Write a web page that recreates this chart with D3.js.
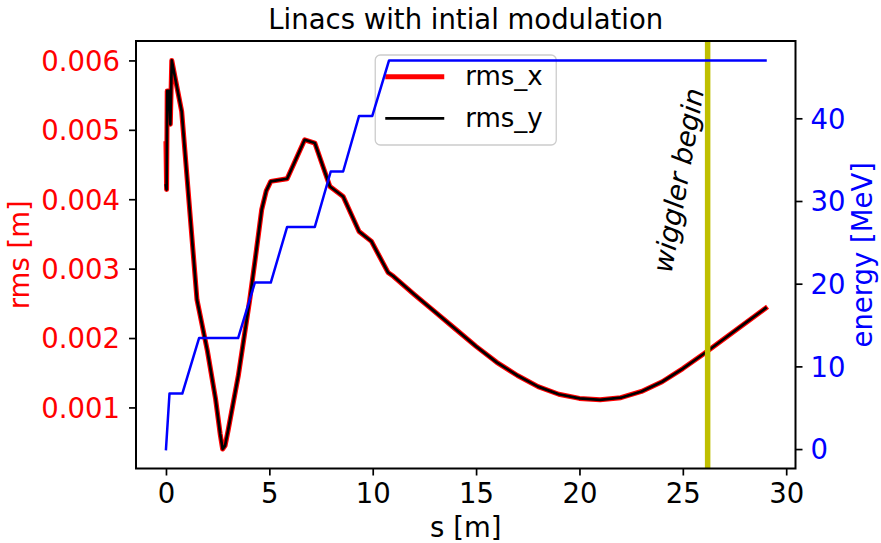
<!DOCTYPE html>
<html><head><meta charset="utf-8">
<script src="https://cdn.jsdelivr.net/npm/d3@7"></script>
<style>body{margin:0;background:#fff}svg{display:block;font-family:"DejaVu Sans",sans-serif}</style>
</head><body><svg id="c" width="881" height="543"></svg>
<script>
// ---- data ----
const rmsS = [0, 0.03, 0.06, 0.15, 0.21, 0.28, 0.76, 1.5, 2.0, 2.4, 2.62, 2.74, 2.86, 3.0, 3.5, 4.05, 4.3, 4.63, 4.85, 5.07, 5.86, 6.71, 7.2, 7.93, 8.57, 9.34, 9.94, 10.74,
  11, 12, 13, 14, 15, 16, 17, 18, 19, 20, 21, 22, 23, 24, 25, 26, 27, 28, 29];
const rmsX = [0.0048, 0.00414, 0.00556, 0.00556, 0.00508, 0.0060, 0.005265, 0.00255, 0.00182, 0.00112, 0.00062, 0.00040, 0.00045, 0.00066, 0.00146, 0.00255, 0.0031, 0.00385, 0.00412, 0.004257, 0.004295, 0.004857, 0.00481, 0.004184, 0.00404, 0.003536, 0.003392, 0.002945,
  0.00289, 0.00263, 0.00238, 0.00213, 0.00188, 0.00165, 0.00146, 0.00130, 0.00119, 0.00113, 0.00111, 0.00114, 0.00123, 0.00137, 0.00156, 0.00177, 0.00199, 0.00221, 0.00243];
const rmsY = [0.0042, 0.00414, 0.00556, 0.00556, 0.00508, 0.0060, 0.005265, 0.00255, 0.00182, 0.00112, 0.00062, 0.00040, 0.00045, 0.00066, 0.00146, 0.00255, 0.0031, 0.00385, 0.00412, 0.004257, 0.004295, 0.004857, 0.00481, 0.004184, 0.00404, 0.003536, 0.003392, 0.002945,
  0.00289, 0.00263, 0.00238, 0.00213, 0.00188, 0.00165, 0.00146, 0.00130, 0.00119, 0.00113, 0.00111, 0.00114, 0.00123, 0.00137, 0.00156, 0.00177, 0.00199, 0.00221, 0.00243];
const energyS = [0, 0.17, 0.79, 1.6, 3.49, 4.3, 5.07, 5.86, 7.2, 7.97, 8.57, 9.34, 9.98, 10.79, 29];
const energyE = [0, 6.71, 6.71, 13.43, 13.43, 20.14, 20.14, 26.86, 26.86, 33.57, 33.57, 40.29, 40.29, 47, 47];
const xTicks = [0, 5, 10, 15, 20, 25, 30];
const rmsTicks = [0.001, 0.002, 0.003, 0.004, 0.005, 0.006];
const energyTicks = [0, 10, 20, 30, 40];
const wigglerS = 26.2;
const wigglerLabelS = 25.24, wigglerLabelRms = 0.00425;
const legendLabels = ["rms_x", "rms_y"];
const titleText = "Linacs with intial modulation";

// ---- layout ----
const M = {l:136, r:795.5, t:41, b:468.5};
const FS = 27.5, LFS = 26;
const svg = d3.select('#c');

const sExt = d3.extent(rmsS.concat(energyS)), padS = (sExt[1]-sExt[0])*0.05;
const x = d3.scaleLinear().domain([sExt[0]-padS, sExt[1]+padS]).range([M.l, M.r]);
const rExt = d3.extent(rmsX.concat(rmsY)), padR = (rExt[1]-rExt[0])*0.05;
const yL = d3.scaleLinear().domain([rExt[0]-padR, rExt[1]+padR]).range([M.b, M.t]);
const eExt = d3.extent(energyE), padE = (eExt[1]-eExt[0])*0.05;
const yR = d3.scaleLinear().domain([eExt[0]-padE, eExt[1]+padE]).range([M.b, M.t]);

const rmsLine = (vals) => d3.line().x((d,i)=>x(rmsS[i])).y((d,i)=>yL(vals[i]))(vals);

// rms curves
svg.append('path').attr('d', rmsLine(rmsX)).attr('fill','none').attr('stroke','#ff0000')
  .attr('stroke-width',5).attr('stroke-linejoin','round').attr('stroke-linecap','square');
svg.append('path').attr('d', rmsLine(rmsY)).attr('fill','none').attr('stroke','#000000')
  .attr('stroke-width',2.7).attr('stroke-linejoin','round').attr('stroke-linecap','square');

// wiggler line + label
svg.append('line').attr('x1', x(wigglerS)).attr('x2', x(wigglerS)).attr('y1', M.t).attr('y2', M.b)
  .attr('stroke','#bfbf00').attr('stroke-width',5.5);
svg.append('text').attr('transform', `translate(${x(wigglerLabelS)},${yL(wigglerLabelRms)}) rotate(-80)`)
  .attr('text-anchor','middle').attr('font-style','italic').attr('font-size',FS).attr('fill','#000')
  .text('wiggler begin');

// legend
const lgW = 181, lgH = 90, lgX = (M.l+M.r)/2 - lgW/2, lgY = 55;
const lg = svg.append('g');
lg.append('rect').attr('x',lgX).attr('y',lgY).attr('width',lgW).attr('height',lgH).attr('rx',5)
  .attr('fill','#fff').attr('fill-opacity',0.8).attr('stroke','#cccccc').attr('stroke-width',1.3);
const lgStyles = [{c:'#ff0000', w:5}, {c:'#000000', w:2.7}];
legendLabels.forEach((lab,i)=>{
  const ry = lgY + 21.7 + i*41.6;
  lg.append('line').attr('x1', lgX+10+lgStyles[i].w/2).attr('x2', lgX+69-lgStyles[i].w/2).attr('y1',ry).attr('y2',ry)
    .attr('stroke',lgStyles[i].c).attr('stroke-width',lgStyles[i].w).attr('stroke-linecap','square');
  lg.append('text').attr('x', lgX+90).attr('y', ry+8.5).attr('font-size',LFS).attr('fill','#000').text(lab);
});

// energy (twin axis, drawn on top)
svg.append('path').attr('d', d3.line().x((d,i)=>x(energyS[i])).y(d=>yR(d))(energyE))
  .attr('fill','none').attr('stroke','#0000ff').attr('stroke-width',2.5).attr('stroke-linejoin','round').attr('stroke-linecap','square');

// axes
function styleAxis(g, color){
  g.select('.domain').remove();
  g.selectAll('.tick line').attr('stroke','#000').attr('stroke-width',1.7);
  g.selectAll('.tick text').attr('fill',color).attr('font-size',FS).attr('font-family','"DejaVu Sans",sans-serif');
}
const gx = svg.append('g').attr('transform',`translate(0,${M.b})`)
  .call(d3.axisBottom(x).tickValues(xTicks).tickSize(7).tickFormat(d3.format('d')));
styleAxis(gx,'#000');
gx.selectAll('.tick text').attr('dy',null).attr('y',34.8);

const gl = svg.append('g').attr('transform',`translate(${M.l},0)`)
  .call(d3.axisLeft(yL).tickValues(rmsTicks).tickSize(7).tickPadding(9).tickFormat(d3.format('.3f')));
styleAxis(gl,'#ff0000');
gl.selectAll('.tick text').attr('dy','0.36em');

const gr = svg.append('g').attr('transform',`translate(${M.r},0)`)
  .call(d3.axisRight(yR).tickValues(energyTicks).tickSize(7).tickPadding(8).tickFormat(d3.format('d')));
styleAxis(gr,'#0000ff');
gr.selectAll('.tick text').attr('dy','0.36em');

// spines
svg.append('rect').attr('x',M.l).attr('y',M.t).attr('width',M.r-M.l).attr('height',M.b-M.t)
  .attr('fill','none').attr('stroke','#000').attr('stroke-width',2);

// labels
svg.append('text').attr('x',(M.l+M.r)/2).attr('y',28.5).attr('text-anchor','middle').attr('font-size',FS).attr('fill','#000').text(titleText);
svg.append('text').attr('x',(M.l+M.r)/2).attr('y',536.5).attr('text-anchor','middle').attr('font-size',FS).attr('fill','#000').text('s [m]');
svg.append('text').attr('transform',`translate(28.5,${(M.t+M.b)/2}) rotate(-90)`).attr('text-anchor','middle').attr('font-size',FS).attr('fill','#ff0000').text('rms [m]');
svg.append('text').attr('transform',`translate(871.5,${(M.t+M.b)/2}) rotate(-90)`).attr('text-anchor','middle').attr('font-size',FS).attr('fill','#0000ff').text('energy [MeV]');
</script></body></html>
